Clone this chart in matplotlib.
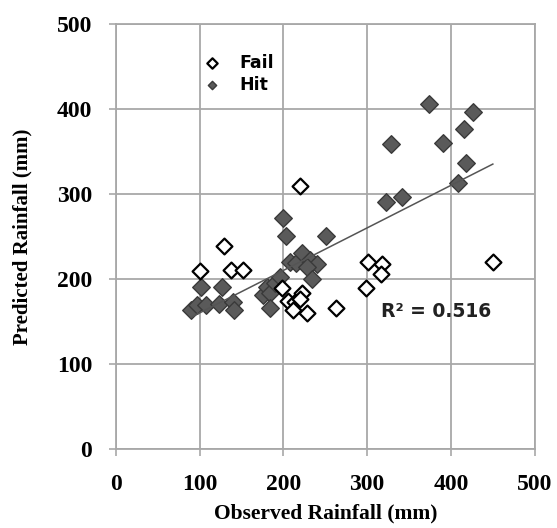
import matplotlib.pyplot as plt
import numpy as np

# data
fail_x = [101, 129, 137, 152, 220, 198, 205, 214, 222, 220, 212, 228, 263, 301, 318, 316, 299, 450]
fail_y = [209, 239, 210, 211, 309, 189, 174, 173, 183, 176, 164, 160, 166, 220, 218, 206, 189, 220]

hit_x = [90, 97, 108, 123, 140, 141, 102, 127, 176, 180, 184, 184, 190, 196, 200, 203, 208,
         215, 222, 232, 240, 228, 234, 251, 322, 341, 328, 390, 374, 426, 416, 418, 408]
hit_y = [164, 169, 169, 171, 173, 164, 190, 190, 181, 191, 183, 166, 195, 202, 272, 251, 220,
         219, 230, 222, 218, 214, 200, 250, 291, 297, 359, 360, 406, 396, 377, 337, 313]

ticks = [0, 100, 200, 300, 400, 500]
r2_label = 'R\u00b2 = 0.516'

serif = 'Liberation Serif'
sans = 'DejaVu Sans'

fig = plt.figure(figsize=(5.57, 5.28), dpi=100)
ax = fig.add_axes([0.208, 0.1496, 0.752, 0.805])

ax.scatter(hit_x, hit_y, marker='D', s=80, facecolor='#5a5a5a', edgecolor='#3a3a3a',
           linewidth=1, label='Hit', zorder=3)
ax.scatter(fail_x, fail_y, marker='D', s=65, facecolor='white', edgecolor='black',
           linewidth=1.6, label='Fail', zorder=4)

# linear trend over all points
all_x = np.array(fail_x + hit_x, dtype=float)
all_y = np.array(fail_y + hit_y, dtype=float)
k, b = np.polyfit(all_x, all_y, 1)
xs = np.array([all_x.min(), all_x.max()])
ax.plot(xs, k * xs + b, color='#555555', linewidth=1.1, zorder=5)

ax.text(317, 162, r2_label, fontfamily=sans, fontweight='bold', fontsize=13.5,
        va='center', ha='left', color='#222222', zorder=6)

ax.set_xlim(0, 500)
ax.set_ylim(0, 500)
ax.set_xticks(ticks)
ax.set_yticks(ticks)
ax.grid(True, color='#a8a8a8', linewidth=1.3)
ax.set_axisbelow(True)
for s in ax.spines.values():
    s.set_color('#a8a8a8')
    s.set_linewidth(1.3)
ax.tick_params(direction='out', length=5, width=1.2, color='#a8a8a8')
ax.tick_params(axis='x', pad=13)
ax.tick_params(axis='y', pad=12)
for lab in ax.get_xticklabels() + ax.get_yticklabels():
    lab.set_fontfamily(serif)
    lab.set_fontweight('bold')
    lab.set_fontsize(17)

ax.set_xlabel('Observed Rainfall (mm)', fontfamily=serif, fontweight='bold', fontsize=15.5)
ax.set_ylabel('Predicted Rainfall (mm)', fontfamily=serif, fontweight='bold', fontsize=15)
ax.xaxis.set_label_coords(0.5, -0.128)
ax.yaxis.set_label_coords(-0.2, 0.5)

h, l = ax.get_legend_handles_labels()
leg = ax.legend([h[1], h[0]], [l[1], l[0]], loc='upper left', bbox_to_anchor=(0.15, 0.967),
                frameon=False, handletextpad=0.6, labelspacing=0.25,
                prop={'family': sans, 'weight': 'bold', 'size': 12.5})
leg.legend_handles[0].set_sizes([28])
leg.legend_handles[1].set_sizes([18])

fig.savefig('out.png', dpi=100)
